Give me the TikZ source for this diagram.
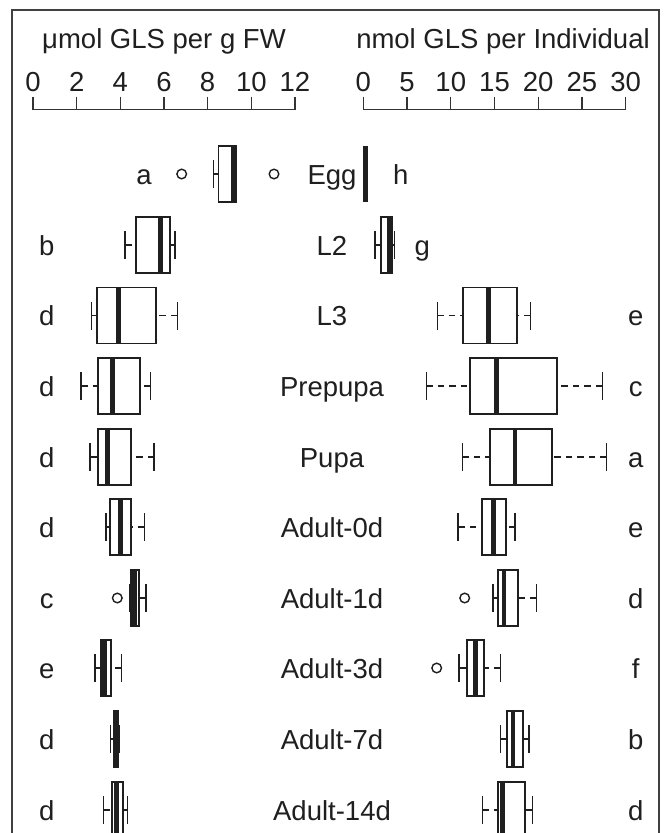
\documentclass[tikz,border=0pt]{standalone}
\usepackage{fontspec}
\setmainfont{Liberation Sans}
\begin{document}
\begin{tikzpicture}[x=1pt,y=-1pt,
  ink/.style={draw=black!88},
  whisk/.style={ink,line width=1.3pt,dash pattern=on 6.5pt off 5pt},
  capst/.style={ink,line width=1.5pt},
  boxst/.style={ink,line width=1.7pt},
  medst/.style={ink,line width=4.6pt},
  outl/.style={ink,line width=1.4pt},
  axst/.style={draw=black!80,line width=1.3pt},
  lbl/.style={font=\fontsize{27.5}{30}\selectfont,text=black!88,anchor=base,inner sep=0pt}]
\useasboundingbox (0,0) rectangle (668,833);
\fill[white] (0,0) rectangle (668,833);
\clip (0,0) rectangle (668,833);
\draw[draw=black!75,line width=1.5pt] (12,840) -- (12,10) -- (659,10) -- (659,840);
% titles
\node[lbl] (tl) at (164,48.5) {μmol GLS per g FW};
\node[lbl] (tr) at (503,48.5) {nmol GLS per Individual};
% left axis
\draw[axst] (33,109.5) -- (295,109.5);
\foreach \v in {0,2,...,12}{
  \draw[axst] ({33+21.83*\v},96.5) -- ({33+21.83*\v},109.5);
  \node[lbl] (lt\v) at ({33+21.83*\v},91) {\v};
}
% right axis
\draw[axst] (363.3,109.5) -- (625.7,109.5);
\foreach \v in {0,5,...,30}{
  \draw[axst] ({363.3+8.747*\v},96.5) -- ({363.3+8.747*\v},109.5);
  \node[lbl] (rt\v) at ({363.3+8.747*\v},91) {\v};
}
\newcommand{\bplot}[6]{%
  \draw[whisk] (#2,#1) -- (#3,#1);
  \draw[whisk] (#6,#1) -- (#5,#1);
  \draw[capst] (#2,{#1-14}) -- (#2,{#1+14});
  \draw[capst] (#6,{#1-14}) -- (#6,{#1+14});
  \fill[white] (#3,{#1-28}) rectangle (#5,{#1+28});
  \draw[boxst] (#3,{#1-28}) rectangle (#5,{#1+28});
  \draw[medst] (#4,{#1-28}) -- (#4,{#1+28});
}
\newcommand{\outp}[2]{\draw[outl] (#2,#1) circle[radius=4.8];}
% row 1 Egg
\bplot{174}{213.3}{218.5}{233.3}{235.7}{236.5}
\outp{174}{181.7}\outp{174}{274}
\draw[medst] (365.7,146) -- (365.7,202);
\node[lbl] (ea) at (144,184) {a};
\node[lbl] (egg) at (332,184) {Egg};
\node[lbl] (eh) at (400.7,184) {h};
% row 2 L2
\bplot{245}{125}{135.7}{160.7}{170}{175}
\bplot{245}{375}{381}{389}{392}{394.3}
\node[lbl] (l2a) at (46.7,255) {b};
\node[lbl] (l2) at (332,255) {L2};
\node[lbl] (l2g) at (422.3,255) {g};
% row 3 L3
\bplot{315.5}{91.7}{96.7}{118.3}{156}{177.3}
\bplot{315.5}{437.3}{463.3}{488.3}{516.7}{530.7}
\node[lbl] (l3a) at (46.7,325.5) {d};
\node[lbl] (l3) at (332,325.5) {L3};
\node[lbl] (l3b) at (635.7,325.5) {e};
% row 4 Prepupa
\bplot{386}{81}{98.3}{112.3}{140}{150.7}
\bplot{386}{426.3}{469.7}{496.3}{556.7}{602.3}
\node[lbl] (ppa) at (46.7,396) {d};
\node[lbl] (pp) at (332,396) {Prepupa};
\node[lbl] (ppb) at (635.7,396) {c};
% row 5 Pupa
\bplot{457}{90}{98.3}{107.3}{131}{154}
\bplot{457}{462.3}{490}{515}{552.3}{606.7}
\node[lbl] (pua) at (46.7,467) {d};
\node[lbl] (pu) at (332,467) {Pupa};
\node[lbl] (pub) at (635.7,467) {a};
% row 6 Adult-0d
\bplot{527}{106}{110}{120.7}{131}{144.3}
\bplot{527}{458}{482.3}{493.3}{505.7}{515}
\node[lbl] (a0a) at (46.7,537) {d};
\node[lbl] (a0) at (332,537) {Adult-0d};
\node[lbl] (a0b) at (635.7,537) {e};
% row 7 Adult-1d
\bplot{598}{129.3}{131}{134.5}{139}{146}
\outp{598}{117.3}
\bplot{598}{493}{498}{504}{518.3}{536.7}
\outp{598}{464.7}
\node[lbl] (a1a) at (46.7,608) {c};
\node[lbl] (a1) at (332,608) {Adult-1d};
\node[lbl] (a1b) at (635.7,608) {d};
% row 8 Adult-3d
\bplot{668}{95}{100.7}{104.5}{110.7}{121.7}
\bplot{668}{459}{466.7}{475.7}{484}{500.7}
\outp{668}{436.7}
\node[lbl] (a3a) at (46.7,678) {e};
\node[lbl] (a3) at (332,678) {Adult-3d};
\node[lbl] (a3b) at (635.7,678) {f};
% row 9 Adult-7d
\bplot{739}{110.7}{114}{116.2}{118.5}{119.5}
\bplot{739}{500.7}{507.3}{513}{523}{529}
\node[lbl] (a7a) at (46.7,749) {d};
\node[lbl] (a7) at (332,749) {Adult-7d};
\node[lbl] (a7b) at (635.7,749) {b};
% row 10 Adult-14d
\bplot{810}{103.3}{112}{116.5}{123}{127.3}
\bplot{810}{482.3}{498}{502.3}{524.7}{532.3}
\node[lbl] (a14a) at (46.7,820) {d};
\node[lbl] (a14) at (332,820) {Adult-14d};
\node[lbl] (a14b) at (635.7,820) {d};
\end{tikzpicture}
\end{document}
